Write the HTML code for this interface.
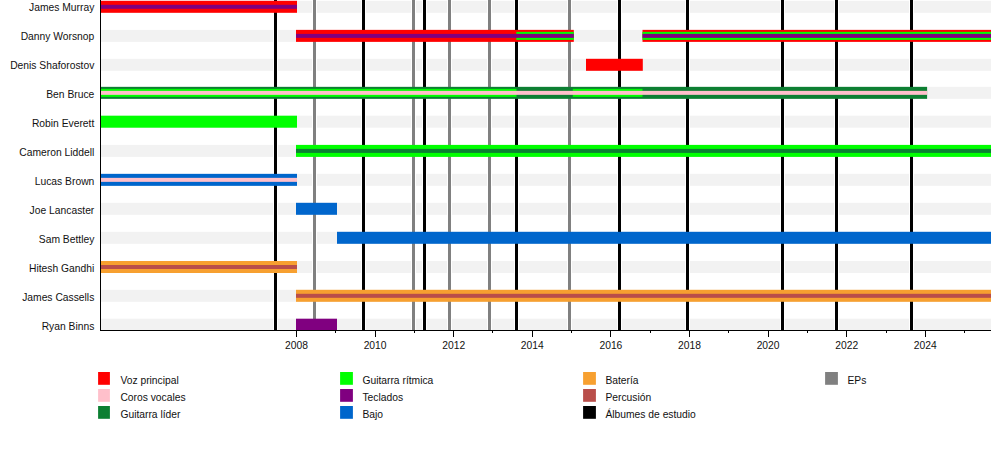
<!DOCTYPE html><html><head><meta charset="utf-8"><style>html,body{margin:0;padding:0;background:#fff;width:1000px;height:450px;overflow:hidden}svg{display:block}text{font-family:"Liberation Sans",sans-serif;font-size:10.3px;fill:#111}</style></head><body>
<svg width="1000" height="450" viewBox="0 0 1000 450">
<rect width="1000" height="450" fill="#fff"/>
<rect x="101" y="0.80" width="890" height="12" fill="#f2f2f2"/>
<rect x="101" y="29.87" width="890" height="12" fill="#f2f2f2"/>
<rect x="101" y="58.80" width="890" height="12" fill="#f2f2f2"/>
<rect x="101" y="86.85" width="890" height="12" fill="#f2f2f2"/>
<rect x="101" y="115.70" width="890" height="12" fill="#f2f2f2"/>
<rect x="101" y="144.90" width="890" height="12" fill="#f2f2f2"/>
<rect x="101" y="173.85" width="890" height="12" fill="#f2f2f2"/>
<rect x="101" y="202.80" width="890" height="12" fill="#f2f2f2"/>
<rect x="101" y="231.80" width="890" height="12" fill="#f2f2f2"/>
<rect x="101" y="261.00" width="890" height="12" fill="#f2f2f2"/>
<rect x="101" y="289.80" width="890" height="12" fill="#f2f2f2"/>
<rect x="101" y="318.70" width="890" height="12" fill="#f2f2f2"/>
<rect x="273.00" y="0" width="5" height="330" fill="#fff"/>
<rect x="361.00" y="0" width="5" height="330" fill="#fff"/>
<rect x="422.00" y="0" width="5" height="330" fill="#fff"/>
<rect x="514.00" y="0" width="5" height="330" fill="#fff"/>
<rect x="617.00" y="0" width="5" height="330" fill="#fff"/>
<rect x="685.00" y="0" width="5" height="330" fill="#fff"/>
<rect x="780.00" y="0" width="5" height="330" fill="#fff"/>
<rect x="834.00" y="0" width="5" height="330" fill="#fff"/>
<rect x="909.00" y="0" width="5" height="330" fill="#fff"/>
<rect x="312.00" y="0" width="5" height="330" fill="#fff"/>
<rect x="411.00" y="0" width="5" height="330" fill="#fff"/>
<rect x="447.00" y="0" width="5" height="330" fill="#fff"/>
<rect x="487.00" y="0" width="5" height="330" fill="#fff"/>
<rect x="567.00" y="0" width="5" height="330" fill="#fff"/>
<rect x="274.00" y="0" width="3" height="330" fill="#000"/>
<rect x="362.00" y="0" width="3" height="330" fill="#000"/>
<rect x="423.00" y="0" width="3" height="330" fill="#000"/>
<rect x="515.00" y="0" width="3" height="330" fill="#000"/>
<rect x="618.00" y="0" width="3" height="330" fill="#000"/>
<rect x="686.00" y="0" width="3" height="330" fill="#000"/>
<rect x="781.00" y="0" width="3" height="330" fill="#000"/>
<rect x="835.00" y="0" width="3" height="330" fill="#000"/>
<rect x="910.00" y="0" width="3" height="330" fill="#000"/>
<rect x="313.00" y="0" width="3" height="330" fill="#808080"/>
<rect x="412.00" y="0" width="3" height="330" fill="#808080"/>
<rect x="448.00" y="0" width="3" height="330" fill="#808080"/>
<rect x="488.00" y="0" width="3" height="330" fill="#808080"/>
<rect x="568.00" y="0" width="3" height="330" fill="#808080"/>
<rect x="101.00" y="0.80" width="196.00" height="12" fill="#ff0000"/>
<rect x="101.00" y="4.80" width="196.00" height="4" fill="#800080"/>
<rect x="296.00" y="29.87" width="277.80" height="12" fill="#ff0000"/>
<rect x="516.30" y="31.87" width="57.50" height="8" fill="#00ff00"/>
<rect x="296.00" y="33.87" width="277.80" height="4" fill="#800080"/>
<rect x="642.50" y="29.87" width="348.50" height="12" fill="#ff0000"/>
<rect x="642.50" y="31.87" width="348.50" height="8" fill="#00ff00"/>
<rect x="642.50" y="33.87" width="348.50" height="4" fill="#800080"/>
<rect x="586.00" y="58.80" width="56.80" height="12" fill="#ff0000"/>
<rect x="101.00" y="86.85" width="826.10" height="12" fill="#0c7f32"/>
<rect x="101.00" y="88.85" width="415.50" height="8" fill="#00ff00"/>
<rect x="572.80" y="88.85" width="69.70" height="8" fill="#00ff00"/>
<rect x="101.00" y="90.85" width="826.10" height="4" fill="#ffc0cb"/>
<rect x="101.00" y="115.70" width="196.00" height="12" fill="#00ff00"/>
<rect x="296.00" y="144.90" width="695.00" height="12" fill="#00ff00"/>
<rect x="296.00" y="148.90" width="695.00" height="4" fill="#0c7f32"/>
<rect x="101.00" y="173.85" width="196.00" height="12" fill="#0066cc"/>
<rect x="101.00" y="177.85" width="196.00" height="4" fill="#ffc0cb"/>
<rect x="296.00" y="202.80" width="41.00" height="12" fill="#0066cc"/>
<rect x="337.00" y="231.80" width="654.00" height="12" fill="#0066cc"/>
<rect x="101.00" y="261.00" width="196.00" height="12" fill="#f7a030"/>
<rect x="101.00" y="265.00" width="196.00" height="4" fill="#b94e4a"/>
<rect x="296.00" y="289.80" width="695.00" height="12" fill="#f7a030"/>
<rect x="296.00" y="293.80" width="695.00" height="4" fill="#b94e4a"/>
<rect x="296.00" y="318.70" width="41.00" height="12" fill="#800080"/>
<rect x="100" y="0" width="1" height="331" fill="#000"/>
<rect x="100" y="330" width="891" height="1" fill="#000"/>
<rect x="296" y="331" width="1" height="6" fill="#000"/>
<text x="296.50" y="348.5" text-anchor="middle">2008</text>
<rect x="335" y="331" width="1" height="2" fill="#000"/>
<rect x="375" y="331" width="1" height="6" fill="#000"/>
<text x="375.10" y="348.5" text-anchor="middle">2010</text>
<rect x="414" y="331" width="1" height="2" fill="#000"/>
<rect x="453" y="331" width="1" height="6" fill="#000"/>
<text x="453.70" y="348.5" text-anchor="middle">2012</text>
<rect x="492" y="331" width="1" height="2" fill="#000"/>
<rect x="532" y="331" width="1" height="6" fill="#000"/>
<text x="532.30" y="348.5" text-anchor="middle">2014</text>
<rect x="571" y="331" width="1" height="2" fill="#000"/>
<rect x="610" y="331" width="1" height="6" fill="#000"/>
<text x="610.90" y="348.5" text-anchor="middle">2016</text>
<rect x="650" y="331" width="1" height="2" fill="#000"/>
<rect x="689" y="331" width="1" height="6" fill="#000"/>
<text x="689.50" y="348.5" text-anchor="middle">2018</text>
<rect x="728" y="331" width="1" height="2" fill="#000"/>
<rect x="768" y="331" width="1" height="6" fill="#000"/>
<text x="768.10" y="348.5" text-anchor="middle">2020</text>
<rect x="807" y="331" width="1" height="2" fill="#000"/>
<rect x="846" y="331" width="1" height="6" fill="#000"/>
<text x="846.70" y="348.5" text-anchor="middle">2022</text>
<rect x="886" y="331" width="1" height="2" fill="#000"/>
<rect x="925" y="331" width="1" height="6" fill="#000"/>
<text x="925.30" y="348.5" text-anchor="middle">2024</text>
<rect x="964" y="331" width="1" height="2" fill="#000"/>
<text x="94.3" y="10.80" text-anchor="end">James Murray</text>
<text x="94.3" y="39.80" text-anchor="end">Danny Worsnop</text>
<text x="94.3" y="68.80" text-anchor="end">Denis Shaforostov</text>
<text x="94.3" y="97.80" text-anchor="end">Ben Bruce</text>
<text x="94.3" y="126.80" text-anchor="end">Robin Everett</text>
<text x="94.3" y="155.80" text-anchor="end">Cameron Liddell</text>
<text x="94.3" y="184.80" text-anchor="end">Lucas Brown</text>
<text x="94.3" y="213.80" text-anchor="end">Joe Lancaster</text>
<text x="94.3" y="242.80" text-anchor="end">Sam Bettley</text>
<text x="94.3" y="271.80" text-anchor="end">Hitesh Gandhi</text>
<text x="94.3" y="300.80" text-anchor="end">James Cassells</text>
<text x="94.3" y="329.80" text-anchor="end">Ryan Binns</text>
<rect x="98.10" y="372.00" width="11.8" height="12.8" fill="#ff0000"/>
<text x="120.40" y="383.80">Voz principal</text>
<rect x="98.10" y="389.00" width="11.8" height="12.8" fill="#ffc0cb"/>
<text x="120.40" y="400.80">Coros vocales</text>
<rect x="98.10" y="406.00" width="11.8" height="12.8" fill="#0c7f32"/>
<text x="120.40" y="417.80">Guitarra líder</text>
<rect x="340.10" y="372.00" width="12.8" height="12.8" fill="#00ff00"/>
<text x="362.40" y="383.80">Guitarra rítmica</text>
<rect x="340.10" y="389.00" width="12.8" height="12.8" fill="#800080"/>
<text x="362.40" y="400.80">Teclados</text>
<rect x="340.10" y="406.00" width="12.8" height="12.8" fill="#0066cc"/>
<text x="362.40" y="417.80">Bajo</text>
<rect x="583.10" y="372.00" width="12.8" height="12.8" fill="#f7a030"/>
<text x="605.40" y="383.80">Batería</text>
<rect x="583.10" y="389.00" width="12.8" height="12.8" fill="#b94e4a"/>
<text x="605.40" y="400.80">Percusión</text>
<rect x="583.10" y="406.00" width="12.8" height="12.8" fill="#000000"/>
<text x="605.40" y="417.80">Álbumes de estudio</text>
<rect x="825.10" y="372.00" width="12.8" height="12.8" fill="#808080"/>
<text x="847.40" y="383.80">EPs</text>
</svg></body></html>
